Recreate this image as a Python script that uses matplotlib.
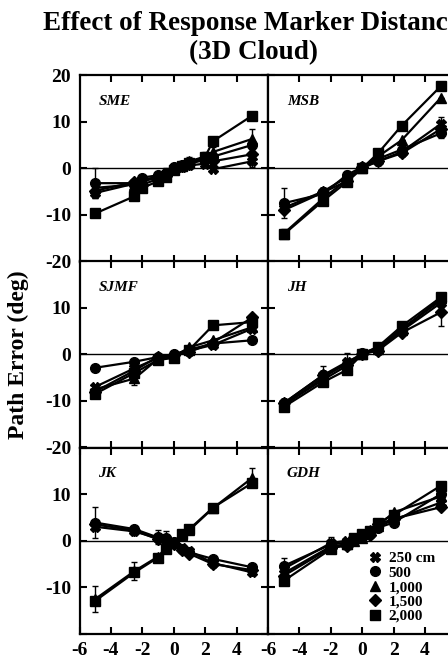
import matplotlib.pyplot as plt
from matplotlib.lines import Line2D

plt.rcParams['font.family'] = ['Liberation Serif', 'DejaVu Serif']
plt.rcParams['font.weight'] = 'bold'
plt.rcParams['axes.unicode_minus'] = False

distances = ["250 cm", "500", "1,000", "1,500", "2,000"]
markers = ['X', 'o', '^', 'D', 's']
msizes = [7, 7, 7.5, 6, 7]

# offsets (deg) and path error (deg), one row per marker distance
sme_x = [-5, -2.5, -2, -1, -0.5, 0, 0.5, 1, 2, 2.5, 5]
sme_y = [[-5.3, -3.3, -2.5, -1.8, -1.2, 0.0, 0.3, 0.6, 1.0, -0.2, 1.5],
         [-3.2, -3.2, -2.0, -1.5, -1.0, 0.2, 0.8, 1.2, 2.0, 2.5, 5.0],
         [-4.2, -3.5, -2.8, -2.0, -1.3, 0.0, 0.6, 1.5, 2.5, 3.5, 6.3],
         [-4.8, -3.0, -3.5, -2.3, -1.6, -0.2, 0.4, 1.0, 1.8, 1.5, 3.0],
         [-9.7, -6.0, -4.2, -2.8, -1.8, -0.3, 0.5, 1.2, 2.5, 5.8, 11.3]]
sme_err = [[1.0, 0.8, 0, 0.6, 0, 0, 0, 0, 0, 0, 1.2],
           [3.2, 0, 0, 0, 1.0, 0, 0, 1.2, 0, 0, 0],
           [0, 0.8, 1.0, 0, 0, 0, 0, 0, 1.0, 1.0, 2.1],
           [0, 0, 0, 0, 0, 0, 0, 0, 0, 0, 0.8],
           [0, 0, 0, 0, 0, 0, 0, 0, 0, 0, 0]]

msb_x = [-5, -2.5, -1, 0, 1, 2.5, 5]
msb_y = [[-8.5, -5.0, -2.0, 0.0, 1.5, 3.5, 9.5],
         [-7.5, -5.5, -1.5, 0.3, 2.0, 4.0, 7.5],
         [-14.0, -6.5, -2.5, 0.0, 2.5, 6.0, 15.1],
         [-9.0, -5.2, -2.8, 0.2, 1.5, 3.2, 8.4],
         [-14.2, -7.0, -3.0, 0.0, 3.2, 9.1, 17.6]]
msb_err = [[0, 0, 1.5, 0, 0, 0, 1.5],
           [3.2, 0, 0, 0, 0, 0, 1.0],
           [1.0, 0, 0, 0, 0, 0, 0],
           [0, 1.0, 0, 0, 0, 0, 1.5],
           [0, 0, 0, 0, 0, 0, 0]]

sjmf_x = [-5, -2.5, -1, 0, 1, 2.5, 5]
sjmf_y = [[-7.0, -3.0, -0.8, -0.5, 0.8, 2.0, 5.5],
          [-2.9, -1.6, -0.6, 0.0, 1.0, 2.3, 3.0],
          [-7.5, -5.2, -1.0, -0.5, 1.5, 3.0, 5.8],
          [-8.0, -3.5, -0.5, -0.2, 0.5, 2.5, 7.9],
          [-8.5, -4.0, -1.2, -0.8, 1.0, 6.2, 6.9]]
sjmf_err = [[0, 0, 0, 0, 1.0, 0, 0],
            [0, 0, 0, 0, 0, 0, 0],
            [1.0, 1.5, 0, 0, 0, 0, 1.0],
            [0, 0, 0, 0, 0, 0, 0],
            [0, 0, 0, 0, 0, 0, 0]]

jh_x = [-5, -2.5, -1, 0, 1, 2.5, 5]
jh_y = [[-10.5, -4.5, -1.7, 0.0, 1.0, 5.0, 11.0],
        [-11.0, -5.0, -2.0, 0.2, 1.5, 5.5, 11.5],
        [-10.8, -5.5, -2.5, 0.0, 1.2, 5.2, 12.0],
        [-10.5, -4.5, -2.2, 0.0, 0.8, 4.6, 9.0],
        [-11.3, -6.0, -3.4, 0.0, 1.6, 6.0, 12.2]]
jh_err = [[0, 2.0, 2.0, 0, 0, 0, 0],
          [0, 0, 0, 0, 0, 0, 0],
          [0, 0, 0, 0, 0, 0, 0],
          [0, 0, 0, 0, 0, 0, 3.0],
          [0, 0, 0, 0, 0, 0, 1.0]]

jk_x = [-5, -2.5, -1, -0.5, 0, 0.5, 1, 2.5, 5]
jk_y = [[3.0, 2.0, 0.5, 0.3, -0.4, -1.5, -2.2, -4.8, -6.8],
        [3.9, 2.5, 0.7, 0.5, -0.2, -1.7, -2.5, -3.9, -5.7],
        [-12.5, -6.5, -3.4, -1.5, -0.2, 1.2, 2.3, 7.0, 13.5],
        [3.5, 2.2, 0.3, 0.0, -0.6, -1.9, -2.8, -5.0, -6.3],
        [-12.9, -6.8, -3.6, -1.7, -0.4, 1.4, 2.5, 7.1, 12.4]]
jk_err = [[0, 0, 0, 0, 0, 0, 0, 0, 0],
          [3.4, 0, 1.5, 1.5, 0, 0, 0, 0, 0],
          [2.8, 2.0, 0, 0, 0, 0, 0, 0, 2.0],
          [0, 0, 0, 0, 0, 0, 0, 0, 0],
          [0, 0, 0, 0, 0, 0, 0, 0, 0]]

gdh_x = [-5, -2, -1, -0.5, 0, 0.5, 1, 2, 5]
gdh_y = [[-6.0, -0.5, 0.0, 0.5, 1.0, 1.8, 3.0, 4.5, 8.2],
         [-5.4, -0.8, -0.4, 0.3, 0.8, 1.5, 2.8, 3.9, 10.0],
         [-7.0, -1.2, -0.8, 0.0, 0.5, 2.2, 3.2, 6.1, 9.5],
         [-7.5, -1.5, -1.1, 0.2, 1.2, 1.3, 3.5, 4.7, 7.2],
         [-8.6, -1.8, -0.6, 0.5, 1.5, 2.0, 3.9, 5.5, 11.8]]
gdh_err = [[2.4, 0, 0, 0, 0, 0, 0, 0, 0],
           [0, 1.5, 0, 0, 1.0, 0, 0, 0, 0],
           [0, 0, 0, 0, 0, 0, 0, 0, 0],
           [0, 0, 0, 0, 0, 0, 0, 0, 0],
           [0, 0, 0, 0, 0, 0, 0, 0, 0]]

panels = [("SME", sme_x, sme_y, sme_err), ("MSB", msb_x, msb_y, msb_err),
          ("SJMF", sjmf_x, sjmf_y, sjmf_err), ("JH", jh_x, jh_y, jh_err),
          ("JK", jk_x, jk_y, jk_err), ("GDH", gdh_x, gdh_y, gdh_err)]

fig = plt.figure(figsize=(4.48, 6.68), dpi=100)
W, H = 448.0, 668.0
lefts = [79.5 / W, 268 / W]
width = 188.5 / W
tops = [75, 261, 447.5]
height = 186.5 / H
ylabel_sets = [[-20, -10, 0, 10, 20], [-20, -10, 0, 10], [-10, 0, 10]]

for i, (name, x, ys, errs) in enumerate(panels):
    row, col = divmod(i, 2)
    ax = fig.add_axes([lefts[col], 1 - (tops[row] + 186.5) / H, width, height])
    ax.axhline(0, color='black', lw=1, zorder=1)
    for y, e, m, ms in zip(ys, errs, markers, msizes):
        ax.errorbar(x, y, yerr=e, marker=m, ms=ms, color='black', lw=1.6,
                    elinewidth=1, capsize=2.5, capthick=1, zorder=3)
    ax.set_xlim(-6, 6)
    ax.set_ylim(-20, 20)
    for sp in ax.spines.values():
        sp.set_linewidth(1.6)
    ax.tick_params(direction='in', length=5, width=1.5, top=True, right=True,
                   labelsize=14, pad=6)
    ax.set_yticks([-20, -10, 0, 10, 20])
    if col == 0:
        shown = ylabel_sets[row]
        ax.set_yticklabels([str(v) if v in shown else '' for v in [-20, -10, 0, 10, 20]])
    else:
        ax.set_yticklabels([])
    if row == 2:
        ax.set_xticks([-6, -4, -2, 0, 2, 4, 6])
        ax.set_xticklabels(['-6', '-4', '-2', '0', '2', '4', ''])
    else:
        ax.set_xticks([-4, -2, 0, 2, 4])
        ax.set_xticklabels([])
    ax.text(0.1, 0.86, name, transform=ax.transAxes, fontsize=11,
            style='italic', weight='bold', va='center', ha='left')
    if name == "GDH":
        handles = [Line2D([], [], ls='none', marker=m, ms=ms, color='black')
                   for m, ms in zip(markers, msizes)]
        ax.legend(handles, distances, loc='upper left', bbox_to_anchor=(0.47, 0.5),
                  frameon=False, handlelength=1.0, handletextpad=0.4,
                  labelspacing=0.05, borderpad=0.2, prop={'size': 11, 'weight': 'bold'})

# the source figure is cropped on the right, so the title runs past the edge
fig.text(251 / W, 1 - 23 / H, "Effect of Response Marker Distance", ha='center',
         va='center', fontsize=19.5, weight='bold')
fig.text(253 / W, 1 - 53 / H, "(3D Cloud)", ha='center', va='center',
         fontsize=19.5, weight='bold')
fig.text(18 / W, 1 - 355 / H, "Path Error (deg)", rotation=90, ha='center',
         va='center', fontsize=17, weight='bold')

fig.savefig('out.png', dpi=100)
